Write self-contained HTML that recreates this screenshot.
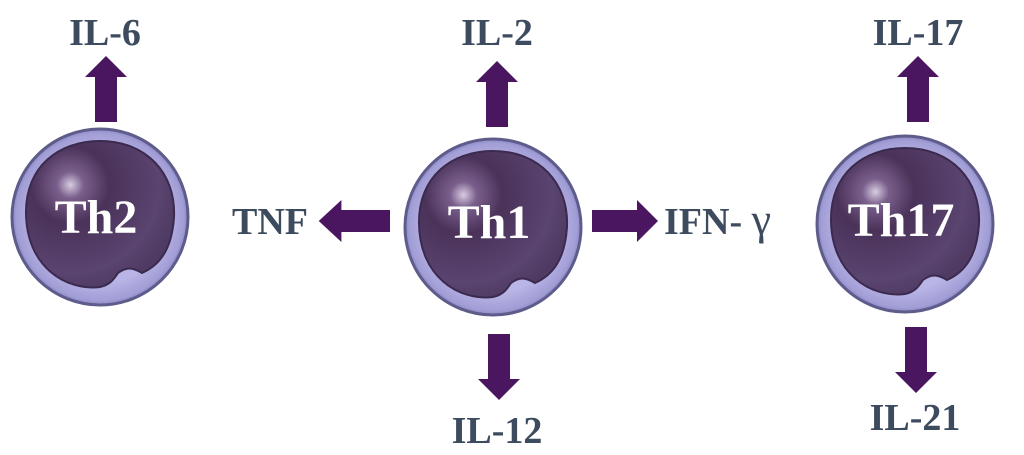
<!DOCTYPE html>
<html><head><meta charset="utf-8"><style>
html,body{margin:0;padding:0;background:#fff;}
svg{display:block;}
.t{font-family:"Liberation Serif",serif;font-weight:bold;fill:#3d4b5e;font-size:38px;}
.c{font-family:"Liberation Serif",serif;font-weight:bold;fill:#fff;font-size:48px;}
</style></head><body>
<svg width="1024" height="455" viewBox="0 0 1024 455" xmlns="http://www.w3.org/2000/svg">
<defs>
<radialGradient id="mem" cx="50%" cy="50%" r="50%">
<stop offset="0.75" stop-color="#b9b5e6"/><stop offset="0.95" stop-color="#a29ed6"/><stop offset="1" stop-color="#8c88c4"/>
</radialGradient>
<radialGradient id="nuc" cx="30%" cy="30%" r="75%">
<stop offset="0" stop-color="#d8cce0"/><stop offset="0.12" stop-color="#7a5f8c"/><stop offset="0.35" stop-color="#4a3259"/><stop offset="0.8" stop-color="#5a4470"/><stop offset="1" stop-color="#4e3a62"/>
</radialGradient>
<g id="cell">
<circle cx="0" cy="0" r="88" fill="url(#mem)" stroke="#5e5c8a" stroke-width="3"/>
<path d="M-74,-5 C-74,-50 -42,-76 0,-76 C46,-76 76,-44 74,0 C72,32 60,48 42,56 C32,50 26,50 18,56 C14,62 10,68 0,70 C-34,74 -74,50 -74,-5 Z" fill="url(#nuc)" stroke="#3b2a4e" stroke-width="2"/>
</g>
<g id="arr"><polygon points="-11,0 11,0 11,-45 21,-45 0,-66 -21,-45 -11,-45" fill="#4b1660"/></g>
</defs>

<g transform="translate(100,217)"><use href="#cell"/><text class="c" x="-4" y="16" text-anchor="middle">Th2</text></g>
<g transform="translate(493,227)"><use href="#cell"/><text class="c" x="-4" y="11" text-anchor="middle">Th1</text></g>
<g transform="translate(905,224)"><use href="#cell"/><text class="c" x="-4" y="12" text-anchor="middle">Th17</text></g>

<use href="#arr" transform="translate(106,122)"/>
<use href="#arr" transform="translate(497,127)"/>
<use href="#arr" transform="translate(918,122)"/>
<use href="#arr" transform="translate(499,334) rotate(180)"/>
<use href="#arr" transform="translate(916,327) rotate(180)"/>
<use href="#arr" transform="translate(390,221) rotate(-90) scale(1,1.08)"/>
<use href="#arr" transform="translate(592,221) rotate(90)"/>

<text class="t" x="105" y="45" text-anchor="middle">IL-6</text>
<text class="t" x="497" y="45" text-anchor="middle">IL-2</text>
<text class="t" x="918" y="45" text-anchor="middle">IL-17</text>
<text class="t" x="270" y="234" text-anchor="middle">TNF</text>
<text class="t" x="664" y="234">IFN- <tspan font-weight="normal" font-size="44">γ</tspan></text>
<text class="t" x="497" y="443" text-anchor="middle">IL-12</text>
<text class="t" x="915" y="430" text-anchor="middle">IL-21</text>
</svg>
</body></html>
